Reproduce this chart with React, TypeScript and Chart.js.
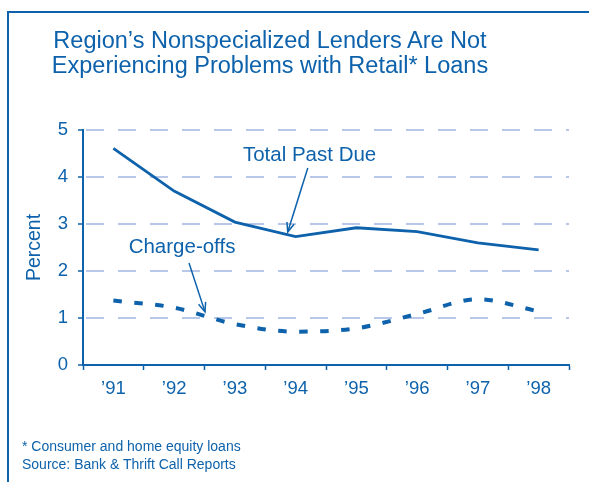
import React, { useEffect, useRef } from 'react';
import { Chart, registerables } from 'chart.js';

Chart.register(...registerables);

const categories = ['’91', '’92', '’93', '’94', '’95', '’96', '’97', '’98'];
const totalPastDue = [4.61, 3.7, 3.04, 2.73, 2.92, 2.84, 2.6, 2.45];
const chargeOffs = [1.37, 1.22, 0.87, 0.71, 0.78, 1.085, 1.4, 1.14];
const yMin = 0;
const yMax = 5;

const titleLines = ['Region’s Nonspecialized Lenders Are Not', 'Experiencing Problems with Retail* Loans'];
const footnotes = ['* Consumer and home equity loans', 'Source: Bank & Thrift Call Reports'];

const annotationLabels = ['Total Past Due', 'Charge-offs'];
const annotationTextAt = [[3.23, 4.34], [1.13, 2.39]];
const annotationArrowFrom = [[3.2, 4.19], [1.245, 2.17]];
const annotationArrowTo = [[2.87, 2.83], [1.508, 1.13]];

const BLUE = '#0d62ab';
const GRID = '#b9c7e8';
const FONT = '"Liberation Sans", Arial, Helvetica, sans-serif';

const annotationPlugin = {
  id: 'arrowLabels',
  afterDatasetsDraw(chart: any) {
    const { ctx, scales } = chart;
    const xs = scales.x;
    const ys = scales.y;
    ctx.save();
    ctx.fillStyle = BLUE;
    ctx.strokeStyle = BLUE;
    ctx.font = `20.5px ${FONT}`;
    ctx.textAlign = 'center';
    ctx.textBaseline = 'alphabetic';
    annotationLabels.forEach((label, i) => {
      const tx = xs.getPixelForValue(annotationTextAt[i][0]);
      const ty = ys.getPixelForValue(annotationTextAt[i][1]);
      ctx.fillText(label, tx, ty);
      const x1 = xs.getPixelForValue(annotationArrowFrom[i][0]);
      const y1 = ys.getPixelForValue(annotationArrowFrom[i][1]);
      const x2 = xs.getPixelForValue(annotationArrowTo[i][0]);
      const y2 = ys.getPixelForValue(annotationArrowTo[i][1]);
      ctx.lineWidth = 1.5;
      ctx.setLineDash([]);
      ctx.beginPath();
      ctx.moveTo(x1, y1);
      ctx.lineTo(x2, y2);
      ctx.stroke();
      const ang = Math.atan2(y2 - y1, x2 - x1);
      const len = 10;
      const spread = 0.38;
      ctx.beginPath();
      ctx.moveTo(x2 - len * Math.cos(ang - spread), y2 - len * Math.sin(ang - spread));
      ctx.lineTo(x2, y2);
      ctx.lineTo(x2 - len * Math.cos(ang + spread), y2 - len * Math.sin(ang + spread));
      ctx.stroke();
    });
    ctx.restore();
  },
};

export default function App() {
  const canvasRef = useRef<HTMLCanvasElement | null>(null);

  useEffect(() => {
    if (!canvasRef.current) return;
    const chart = new Chart(canvasRef.current, {
      type: 'line',
      data: {
        labels: categories,
        datasets: [
          {
            label: 'Total Past Due',
            data: totalPastDue,
            borderColor: BLUE,
            borderWidth: 2.8,
            pointRadius: 0,
            tension: 0,
            fill: false,
          },
          {
            label: 'Charge-offs',
            data: chargeOffs,
            borderColor: BLUE,
            borderWidth: 4,
            borderDash: [8.5, 12.5],
            borderCapStyle: 'butt',
            pointRadius: 0,
            tension: 0.4,
            cubicInterpolationMode: 'monotone',
            fill: false,
          },
        ],
      },
      options: {
        responsive: false,
        animation: false,
        devicePixelRatio: 1,
        layout: { padding: { left: 0, top: 130, right: 20, bottom: 0 } },
        plugins: {
          legend: { display: false },
          tooltip: { enabled: false },
          title: { display: false },
        },
        scales: {
          x: {
            type: 'category',
            offset: true,
            afterFit: (scale: any) => {
              scale.height = 117;
            },
            grid: {
              display: true,
              offset: true,
              drawOnChartArea: false,
              drawTicks: true,
              tickLength: 5,
              tickColor: BLUE,
              tickWidth: 1.5,
            },
            border: { display: true, color: BLUE, width: 2 },
            ticks: {
              color: BLUE,
              font: { family: FONT, size: 18.5 },
              padding: 8,
              maxRotation: 0,
              autoSkip: false,
            },
          },
          y: {
            min: yMin,
            max: yMax,
            afterFit: (scale: any) => {
              scale.width = 83;
            },
            grid: {
              color: GRID,
              lineWidth: 2,
              drawTicks: true,
              tickLength: 5,
              tickColor: BLUE,
              tickWidth: 1.5,
              tickBorderDash: [],
            },
            border: { display: true, color: BLUE, width: 2, dash: [18, 14], dashOffset: -2 },
            ticks: {
              stepSize: 1,
              color: BLUE,
              font: { family: FONT, size: 18.5 },
              padding: 10,
            },
            title: {
              display: true,
              text: 'Percent',
              color: BLUE,
              font: { family: FONT, size: 19.5 },
              padding: { top: 23, bottom: 0 },
            },
          },
        },
      },
      plugins: [annotationPlugin],
    } as any);
    return () => chart.destroy();
  }, []);

  return (
    <div
      style={{
        position: 'fixed',
        left: 0,
        top: 0,
        width: 589,
        height: 482,
        background: '#ffffff',
        overflow: 'hidden',
        fontFamily: FONT,
        color: BLUE,
      }}
    >
      <div
        style={{
          position: 'absolute',
          left: 7,
          top: 11,
          right: -10,
          bottom: -10,
          borderLeft: `2px solid ${BLUE}`,
          borderTop: `2px solid ${BLUE}`,
        }}
      />
      <canvas ref={canvasRef} width={589} height={482} style={{ position: 'absolute', left: 0, top: 0 }} />
      <div
        style={{
          position: 'absolute',
          left: 20,
          top: 28,
          width: 500,
          textAlign: 'center',
          fontSize: 23.5,
          lineHeight: '25px',
          whiteSpace: 'nowrap',
        }}
      >
        {titleLines.map((t) => (
          <div key={t}>{t}</div>
        ))}
      </div>
      <div
        style={{
          position: 'absolute',
          left: 22,
          top: 437,
          fontSize: 14,
          lineHeight: '18px',
          whiteSpace: 'nowrap',
        }}
      >
        {footnotes.map((t) => (
          <div key={t}>{t}</div>
        ))}
      </div>
    </div>
  );
}
